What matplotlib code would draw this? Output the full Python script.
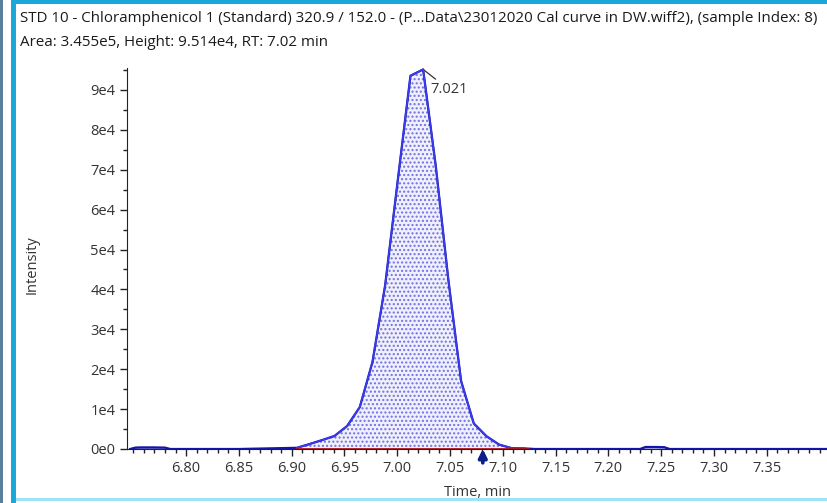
import matplotlib
matplotlib.use('Agg')
import matplotlib.pyplot as plt
from matplotlib.ticker import MultipleLocator, FuncFormatter
from matplotlib.patches import Rectangle

# chromatogram trace (time in min, intensity in counts)
trace_t = [6.747, 6.752, 6.757, 6.769, 6.780, 6.785, 6.850, 6.905, 6.917, 6.929,
           6.9405, 6.9525, 6.9645, 6.9765, 6.9885, 7.0005, 7.0125, 7.0245,
           7.0365, 7.0485, 7.0605, 7.0725, 7.0845, 7.0965, 7.1085, 7.1205,
           7.1300, 7.2300, 7.2350, 7.2450, 7.2530, 7.2580, 7.3500, 7.4100]
trace_i = [0, 350, 400, 400, 350, 0, 0, 300, 1250, 2250,
           3260, 5760, 10500, 21800, 41000, 67400, 93560, 95140,
           70900, 42200, 17000, 6400, 3200, 1100, 200, 150,
           0, 0, 500, 500, 450, 0, 0, 0]

# integration window of the peak
peak_start = 6.905
peak_end = 7.124
apex_t = 7.0245
apex_i = 95140
apex_label = '7.021'
marker_t = 7.081

x_ticks = [6.80, 6.85, 6.90, 6.95, 7.00, 7.05, 7.10, 7.15, 7.20, 7.25, 7.30, 7.35]

title1 = 'STD 10 - Chloramphenicol 1 (Standard) 320.9 / 152.0 - (P...Data\\23012020 Cal curve in DW.wiff2), (sample Index: 8)'
title2 = 'Area: 3.455e5, Height: 9.514e4, RT: 7.02 min'

plt.rcParams['font.family'] = ['Open Sans', 'DejaVu Sans']
plt.rcParams['hatch.linewidth'] = 1.0

fig = plt.figure(figsize=(8.28, 5.03), dpi=100)

# window frame
fig.add_artist(Rectangle((0.0, 0), 3 / 828, 1, transform=fig.transFigure, color='#5a7f9c', lw=0))
fig.add_artist(Rectangle((11 / 828, 0), 5 / 828, 1, transform=fig.transFigure, color='#1aa7dc', lw=0))
fig.add_artist(Rectangle((11 / 828, 1 - 4 / 503), 1, 4 / 503, transform=fig.transFigure, color='#1aa7dc', lw=0))
fig.add_artist(Rectangle((16 / 828, 2 / 503), 1, 3 / 503, transform=fig.transFigure, color='#9fe2f4', lw=0))

fig.text(20 / 828, 1 - 18 / 503, title1, fontsize=10.9, va='center', ha='left', color='#1a1a1a')
fig.text(20 / 828, 1 - 43 / 503, title2, fontsize=10.9, va='center', ha='left', color='#1a1a1a')

ax = fig.add_axes([127 / 828, 1 - 449 / 503, 1 - 127 / 828, (449 - 68) / 503])

# peak fill
pk_t = [t for t in trace_t if peak_start <= t <= peak_end]
pk_i = [v for t, v in zip(trace_t, trace_i) if peak_start <= t <= peak_end]
ax.fill_between(pk_t, pk_i, 0, facecolor='#f0f0fd', hatch='....', edgecolor='#7070e6', lw=0)
# small side bumps
for a, b in [(6.747, 6.785), (7.23, 7.258)]:
    bt = [t for t in trace_t if a <= t <= b]
    bi = [v for t, v in zip(trace_t, trace_i) if a <= t <= b]
    ax.fill_between(bt, bi, 0, facecolor='#b8b8ec', edgecolor='#6b6be6', lw=0.8)

ax.plot(trace_t, trace_i, color='#1414a8', lw=1.6, zorder=3)
ax.plot(pk_t, pk_i, color='#3b3bf0', lw=1.2, zorder=4)
ax.plot([peak_start, peak_end], [0, 0], color='#b01010', lw=2.0, zorder=5)

ax.annotate(apex_label, xy=(apex_t, apex_i), xytext=(5, -9), textcoords='offset points',
            ha='left', va='top', fontsize=10.5, color='#333333',
            arrowprops=dict(arrowstyle='-', lw=0.9, color='#333333', shrinkA=0, shrinkB=0))
ax.annotate('', xy=(marker_t, 0), xytext=(0, -10), textcoords='offset points',
            arrowprops=dict(arrowstyle='-|>', color='#0c1c88', lw=2.6, mutation_scale=12,
                            shrinkA=0, shrinkB=0), annotation_clip=False)

ax.set_xlim(6.744, 7.408)
ax.set_ylim(0, 95500)
ax.set_xticks(x_ticks)
ax.set_xticklabels(['%.2f' % t for t in x_ticks])
ax.xaxis.set_minor_locator(MultipleLocator(0.01))
ax.yaxis.set_major_locator(MultipleLocator(10000))
ax.yaxis.set_minor_locator(MultipleLocator(5000))
ax.yaxis.set_major_formatter(FuncFormatter(lambda v, p: '%de%d' % (round(v / 10000), 0 if v == 0 else 4)))

for s in ['top', 'right']:
    ax.spines[s].set_visible(False)
ax.spines['left'].set_color('#222222')
ax.spines['bottom'].set_color('#222222')
ax.tick_params(axis='both', which='major', length=5, width=1, color='#222222', labelsize=10.5, labelcolor='#333333')
ax.tick_params(axis='both', which='minor', length=3, width=1, color='#222222')
ax.tick_params(axis='x', pad=4)

ax.set_xlabel('Time, min', fontsize=10.5, color='#333333', labelpad=6)
fig.text(32 / 828, 1 - 265 / 503, 'Intensity', rotation=90, fontsize=10.5, va='center', ha='center', color='#333333')

fig.savefig('out.png', dpi=100)
